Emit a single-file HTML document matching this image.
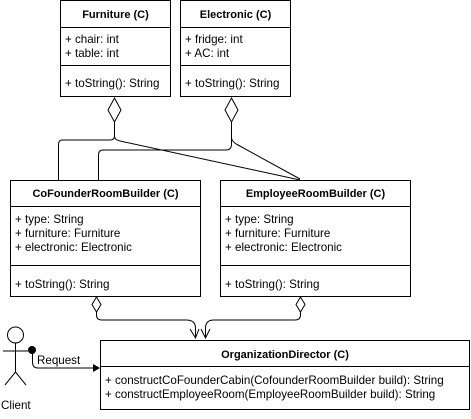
<!DOCTYPE html>
<html><head><style>
body{margin:0;background:#fff;}
svg text{font-family:"Liberation Sans",Arial,sans-serif;font-size:11.6px;fill:#000;}
svg text.h{font-size:11px;font-weight:bold;}
</style></head><body>
<svg width="471" height="414" xmlns="http://www.w3.org/2000/svg">
<g fill="#fff" stroke="#000" stroke-width="1">
<rect x="60.5" y="0.5" width="110" height="96"/>
<line x1="60" y1="27.5" x2="171" y2="27.5"/>
<line x1="60" y1="65.5" x2="171" y2="65.5"/>
<rect x="180.5" y="0.5" width="110" height="96"/>
<line x1="180" y1="27.5" x2="291" y2="27.5"/>
<line x1="180" y1="65.5" x2="291" y2="65.5"/>
<rect x="10.5" y="180.5" width="190" height="116"/>
<line x1="10" y1="206.5" x2="201" y2="206.5"/>
<line x1="10" y1="265.5" x2="201" y2="265.5"/>
<rect x="220.5" y="180.5" width="190" height="116"/>
<line x1="220" y1="206.5" x2="411" y2="206.5"/>
<line x1="220" y1="265.5" x2="411" y2="265.5"/>
<rect x="100.5" y="340.5" width="369" height="69"/>
<line x1="100" y1="366.5" x2="470" y2="366.5"/>
</g>
<g fill="none" stroke="#000" stroke-width="1">
<path d="M114.5 122 V136 Q114.5 140 110 140 H62 Q58.5 140 58.5 145 V180"/>
<path d="M114.5 136 Q114.5 140 120 141 L300 180"/>
<path d="M231.5 122 V144 Q231.5 150 226 150 H103 Q98.5 150 98.5 155 V180"/>
<path d="M231.5 138 Q232 142 238 145 L300 179"/>
<path d="M96.5 312 V315 Q96.5 320 102 320 H186 Q195.5 320 195.5 328 V338"/>
<path d="M300.5 312 V315 Q300.5 320 295 320 H214 Q205.5 320 205.5 328 V338"/>
<path d="M190 329 L195.5 338 L199 329 M201 329 L205.5 338 L210 329"/>
<path d="M32.5 350 V362 Q32.5 368 38 368 H93"/>
<circle cx="15.5" cy="335" r="8"/>
<path d="M15.5 343 V372 M3 351 H28 M15.5 372 L5 385 M15.5 372 L26 385"/>
</g>
<g fill="#fff" stroke="#000">
<path d="M114.5 98 L121 110 L114.5 122 L108 110 Z"/>
<path d="M231.5 98 L238 110 L231.5 122 L225 110 Z"/>
<path d="M96.5 297 L101 304.5 L96.5 312 L92 304.5 Z"/>
<path d="M300.5 297 L305 304.5 L300.5 312 L296 304.5 Z"/>
</g>
<circle cx="32" cy="350" r="4" fill="#000"/>
<path d="M93 364 L100 368 L93 372 Z" fill="#000"/>
<text class="h" x="115.5" y="18" text-anchor="middle">Furniture (C)</text>
<text class="h" x="235.5" y="18" text-anchor="middle">Electronic (C)</text>
<text class="h" x="105.5" y="197" text-anchor="middle">CoFounderRoomBuilder (C)</text>
<text class="h" x="315.5" y="197" text-anchor="middle">EmployeeRoomBuilder (C)</text>
<text class="h" x="285" y="358" text-anchor="middle">OrganizationDirector (C)</text>
<text x="65" y="43">+ chair: int</text>
<text x="65" y="57">+ table: int</text>
<text x="65" y="87">+ toString(): String</text>
<text x="185" y="43">+ fridge: int</text>
<text x="185" y="57">+ AC: int</text>
<text x="185" y="87">+ toString(): String</text>
<text x="15" y="223">+ type: String</text>
<text x="15" y="237">+ furniture: Furniture</text>
<text x="15" y="251">+ electronic: Electronic</text>
<text x="15" y="288">+ toString(): String</text>
<text x="225" y="223">+ type: String</text>
<text x="225" y="237">+ furniture: Furniture</text>
<text x="225" y="251">+ electronic: Electronic</text>
<text x="225" y="288">+ toString(): String</text>
<text x="105" y="384">+ constructCoFounderCabin(CofounderRoomBuilder build): String</text>
<text x="105" y="398">+ constructEmployeeRoom(EmployeeRoomBuilder build): String</text>
<text x="37" y="364">Request</text>
<text x="1" y="409">Client</text>
</svg>
</body></html>
